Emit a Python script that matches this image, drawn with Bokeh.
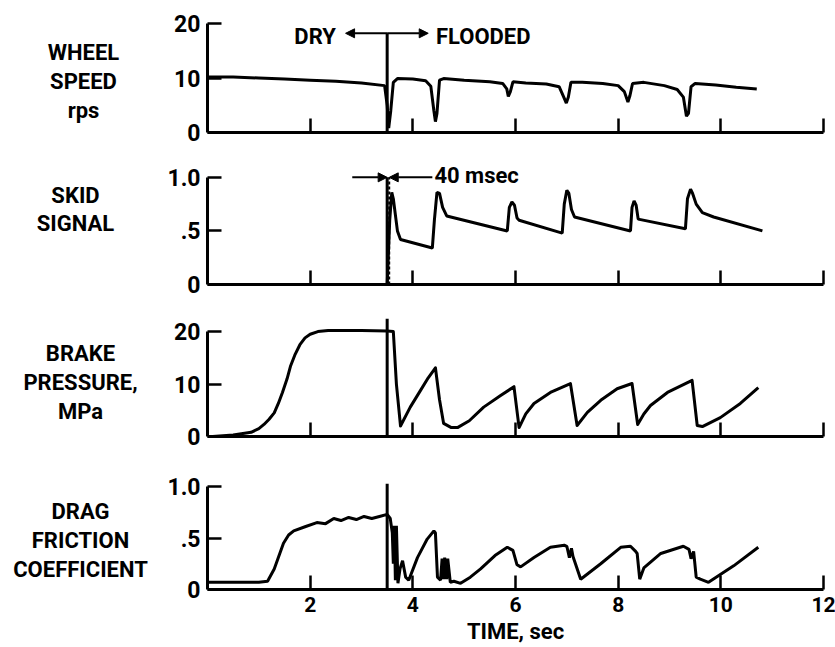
from bokeh.plotting import figure
from bokeh.layouts import column, row
from bokeh.models import Range1d, FixedTicker, Label, Arrow, NormalHead
from bokeh.core.properties import value
from bokeh.embed import file_html
from bokeh.resources import INLINE

FONT = "Roboto"

# ---------------- data ----------------
time_ticks = [2, 4, 6, 8, 10, 12]
event_time = 3.5          # dry -> flooded transition (sec)
msec_window = 0.04        # 40 msec

panel_titles = ["WHEEL\nSPEED\nrps", "SKID\nSIGNAL", "BRAKE\nPRESSURE,\nMPa",
                "DRAG\nFRICTION\nCOEFFICIENT"]

# Wheel speed, rps
t_wheel = [0.0, 0.5, 1.0, 1.5, 2.0, 2.5, 3.0, 3.45, 3.50, 3.53, 3.57, 3.62, 3.70,
           4.0, 4.25, 4.35, 4.41, 4.44, 4.47, 4.52, 4.6, 5.0, 5.5, 5.75, 5.83, 5.86,
           5.9, 5.95, 6.2, 6.6, 6.85, 6.94, 6.99, 7.03, 7.08, 7.3, 7.7, 8.0, 8.12,
           8.19, 8.23, 8.28, 8.5, 8.9, 9.15, 9.27, 9.33, 9.37, 9.42, 9.5, 9.9, 10.3, 10.7]
wheel_speed = [10.2, 10.2, 10.0, 9.8, 9.6, 9.4, 9.1, 8.6, 5.0, 0.8, 4.0, 9.2, 9.9,
               9.8, 9.5, 8.5, 4.0, 2.0, 3.5, 9.6, 9.9, 9.6, 9.3, 9.0, 8.0, 6.6,
               7.5, 9.3, 9.1, 8.9, 8.4, 6.5, 5.4, 6.5, 9.2, 9.2, 9.0, 8.6, 7.5,
               5.6, 6.8, 9.0, 9.2, 8.6, 7.9, 6.5, 3.0, 3.5, 8.4, 9.0, 8.7, 8.3, 8.0]

# Skid signal
t_skid = [3.50, 3.55, 3.59, 3.62, 3.70, 3.76, 4.38, 4.42, 4.47, 4.52, 4.58, 4.66,
          5.84, 5.88, 5.93, 5.98, 6.03, 6.07, 6.91, 6.95, 7.0, 7.04, 7.09, 7.15,
          8.24, 8.27, 8.31, 8.35, 8.39, 9.31, 9.35, 9.41, 9.45, 9.52, 9.64, 9.86, 10.81]
skid_signal = [0.0, 0.6, 0.86, 0.8, 0.5, 0.42, 0.34, 0.6, 0.86, 0.85, 0.72, 0.64,
               0.5, 0.72, 0.77, 0.74, 0.62, 0.6, 0.48, 0.75, 0.88, 0.85, 0.7, 0.63,
               0.5, 0.72, 0.78, 0.74, 0.61, 0.52, 0.8, 0.89, 0.85, 0.75, 0.67, 0.63, 0.5]

# Brake pressure, MPa
t_brake = [0.1, 0.5, 0.85, 1.0, 1.1, 1.2, 1.3, 1.38, 1.46, 1.55, 1.62, 1.7, 1.8, 1.9,
           2.0, 2.15, 2.35, 3.0, 3.5, 3.62, 3.68, 3.76, 3.95, 4.15, 4.3, 4.44, 4.52,
           4.6, 4.75, 4.87, 5.1, 5.38, 5.71, 5.97, 6.07, 6.2, 6.36, 6.68, 7.07, 7.2,
           7.4, 7.66, 7.98, 8.27, 8.38, 8.5, 8.63, 8.96, 9.44, 9.54, 9.64, 9.99, 10.38,
           10.73]
brake_pressure = [0.0, 0.3, 0.8, 1.5, 2.3, 3.3, 4.5, 6.3, 8.4, 11.0, 13.5, 15.5, 17.5, 18.8,
                  19.5, 20.0, 20.2, 20.2, 20.1, 20.0, 10.0, 2.0, 5.6, 8.8, 11.2, 13.1, 7.0,
                  2.5, 1.7, 1.7, 3.0, 5.6, 7.8, 9.5, 1.7, 4.3, 6.3, 8.4, 10.1, 2.1,
                  4.6, 6.9, 9.1, 10.1, 2.3, 4.3, 5.9, 8.4, 10.7, 2.1, 1.9, 3.6, 6.3,
                  9.3]

# Drag friction coefficient
t_drag = [0.0, 0.5, 1.0, 1.17, 1.3, 1.48, 1.58, 1.68, 1.9, 2.13, 2.3, 2.46, 2.6, 2.75,
          2.9, 3.05, 3.2, 3.35, 3.5, 3.56, 3.6, 3.62, 3.64, 3.66, 3.68, 3.71, 3.75, 3.8,
          3.86, 3.92, 4.09, 4.28, 4.41, 4.44, 4.48, 4.54, 4.57, 4.6, 4.62, 4.66, 4.68,
          4.73, 4.8, 4.93, 5.12, 5.32, 5.6, 5.84, 5.95, 6.03, 6.1, 6.36, 6.68, 6.95,
          7.0, 7.05, 7.09, 7.12, 7.27, 7.66, 8.05, 8.24, 8.34, 8.37, 8.42, 8.5, 8.83,
          9.27, 9.38, 9.42, 9.47, 9.52, 9.6, 9.76, 10.25, 10.73]
drag_coef = [0.07, 0.07, 0.07, 0.08, 0.2, 0.45, 0.53, 0.57, 0.61, 0.65, 0.64, 0.69, 0.67, 0.7,
             0.68, 0.71, 0.69, 0.71, 0.73, 0.69, 0.55, 0.25, 0.62, 0.09, 0.62, 0.06, 0.2, 0.28,
             0.12, 0.09, 0.31, 0.49, 0.57, 0.55, 0.12, 0.09, 0.3, 0.1, 0.31, 0.1, 0.3,
             0.07, 0.08, 0.06, 0.12, 0.2, 0.33, 0.41, 0.38, 0.24, 0.22, 0.31, 0.41, 0.43,
             0.42, 0.31, 0.4, 0.32, 0.1, 0.25, 0.41, 0.42, 0.37, 0.35, 0.1, 0.21, 0.35,
             0.42, 0.39, 0.3, 0.37, 0.12, 0.1, 0.07, 0.23, 0.41]

# ---------------- styling helpers ----------------
LW = 3
LABEL_W = 150
PANEL_W = 835 - LABEL_W


def make_fig(height, top, bottom, y_end, y_ticks, y_labels, y_bound, x_labels):
    p = figure(width=PANEL_W, height=height, x_range=Range1d(0, 12),
               y_range=Range1d(0, y_end), output_backend="svg",
               toolbar_location=None, min_border_left=207 - LABEL_W,
               min_border_right=12, min_border_top=top, min_border_bottom=bottom)
    p.grid.visible = False
    p.outline_line_color = None
    p.background_fill_color = "white"
    p.border_fill_color = "white"

    xa = p.xaxis[0]
    xa.ticker = FixedTicker(ticks=time_ticks, minor_ticks=[])
    xa.bounds = (0, 12)
    xa.axis_line_width = LW
    xa.major_tick_line_width = 2.5
    xa.major_tick_in = 14
    xa.major_tick_out = 0
    if x_labels:
        xa.major_label_text_font = FONT
        xa.major_label_text_font_style = "bold"
        xa.major_label_text_font_size = "21px"
        xa.major_label_text_color = "black"
        xa.major_label_standoff = 7
        xa.axis_label = "TIME, sec"
        xa.axis_label_text_font = FONT
        xa.axis_label_text_font_style = "bold"
        xa.axis_label_text_font_size = "22px"
        xa.axis_label_text_color = "black"
        xa.axis_label_standoff = 4
    else:
        xa.major_label_overrides = {t: "" for t in time_ticks}
        xa.major_label_standoff = 0

    ya = p.yaxis[0]
    ya.ticker = FixedTicker(ticks=y_ticks, minor_ticks=[])
    ya.major_label_overrides = y_labels
    ya.bounds = (0, y_bound)
    ya.axis_line_width = LW
    ya.major_tick_line_width = 2.5
    ya.major_tick_in = 14
    ya.major_tick_out = 0
    ya.major_label_standoff = 7
    ya.major_label_text_font = FONT
    ya.major_label_text_font_style = "bold"
    ya.major_label_text_font_size = "23px"
    ya.major_label_text_color = "black"
    return p


def note(p, x, y, text, align):
    p.add_layout(Label(x=x, y=y, text=text, text_align=align,
                       text_baseline="middle", text_font=FONT,
                       text_font_style="bold", text_font_size="22px",
                       text_color="black"))


def arrow(p, x0, y0, x1, y1):
    p.add_layout(Arrow(end=NormalHead(size=9, fill_color="black", line_color="black"),
                       x_start=x0, y_start=y0, x_end=x1, y_end=y1,
                       line_width=2, line_color="black"))


# ---------------- left column: panel titles ----------------
pt = figure(width=LABEL_W, height=647, x_range=Range1d(0, LABEL_W),
            y_range=Range1d(647, 0), output_backend="svg", toolbar_location=None,
            min_border=0, x_axis_location=None, y_axis_location=None)
pt.grid.visible = False
pt.outline_line_color = None
pt.border_fill_color = "white"
pt.text(x=[83, 75, 80, 80], y=[81, 209, 382, 540], text=panel_titles,
        text_align="center", text_baseline="middle", text_font=value(FONT),
        text_font_style="bold", text_font_size="22px", text_line_height=1.15,
        text_color="black")

# ---------------- panel 1: wheel speed ----------------
p1 = make_fig(152, 23, 20, 20, [0, 10, 20], {0: "0", 10: "10", 20: "20"}, 20, False)
p1.line(t_wheel, wheel_speed, line_width=LW, line_color="black")
p1.segment(x0=[event_time], y0=[0], x1=[event_time], y1=[18.2], line_width=LW, line_color="black")
arrow(p1, event_time, 18.2, 2.69, 18.2)
arrow(p1, event_time, 18.2, 4.3, 18.2)
note(p1, 2.5, 17.6, "DRY", "right")
note(p1, 4.45, 17.6, "FLOODED", "left")

# ---------------- panel 2: skid signal ----------------
p2 = make_fig(152, 12, 20, 1.12, [0, 0.5, 1.0], {0: "0", 0.5: ".5", 1: "1.0"}, 1.0, False)
p2.line(t_skid, skid_signal, line_width=LW, line_color="black")
p2.segment(x0=[event_time], y0=[0], x1=[event_time], y1=[1.0], line_width=LW, line_color="black")
p2.segment(x0=[event_time + msec_window], y0=[0], x1=[event_time + msec_window], y1=[1.0],
           line_width=2, line_color="black", line_dash="3 2")
arrow(p2, 2.82, 1.0, event_time, 1.0)
arrow(p2, 4.38, 1.0, event_time + msec_window, 1.0)
note(p2, 4.42, 1.02, "40 msec", "left")

# ---------------- panel 3: brake pressure ----------------
p3 = make_fig(152, 14, 20, 22.5, [0, 10, 20], {0: "0", 10: "10", 20: "20"}, 20, False)
p3.line(t_brake, brake_pressure, line_width=LW, line_color="black", line_join="round")
p3.segment(x0=[event_time], y0=[0], x1=[event_time], y1=[22.5], line_width=LW, line_color="black")

# ---------------- panel 4: drag friction coefficient ----------------
p4 = make_fig(191, 27, 58, 1.03, [0, 0.5, 1.0], {0: "0", 0.5: ".5", 1: "1.0"}, 1.0, True)
p4.line(t_drag, drag_coef, line_width=LW, line_color="black")
p4.segment(x0=[event_time], y0=[0], x1=[event_time], y1=[1.03], line_width=LW, line_color="black")

layout = row(pt, column(p1, p2, p3, p4, spacing=0), spacing=0)
open("out.html", "w").write(file_html(layout, INLINE))
